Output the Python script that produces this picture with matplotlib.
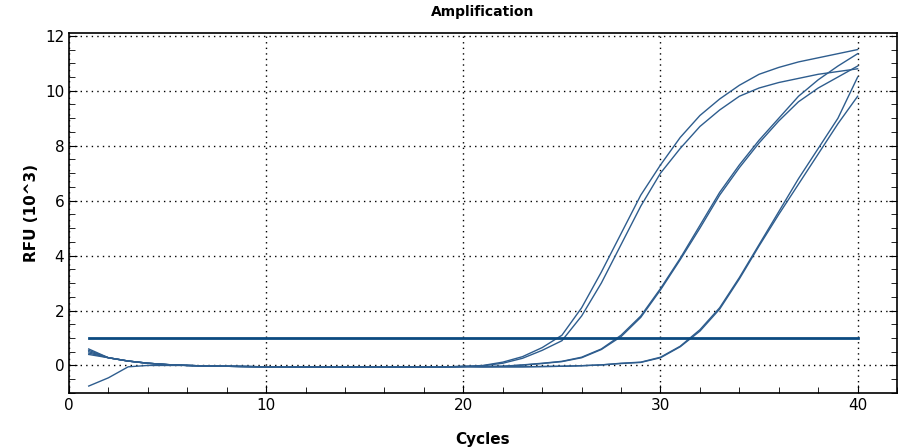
import matplotlib
matplotlib.use("Agg")
import matplotlib.pyplot as plt
from matplotlib.ticker import MultipleLocator

cycles = list(range(1, 41))
base = [0.30, 0.28, 0.16, 0.08, 0.03, 0.0, -0.02, -0.03, -0.04, -0.05,
        -0.05, -0.06, -0.06, -0.06, -0.06, -0.06, -0.06, -0.06, -0.05, -0.04]
a1 = [0.60] + base[1:] + [0.0, 0.12, 0.32, 0.65, 1.1, 2.1, 3.4, 4.8, 6.2, 7.3,
                           8.3, 9.1, 9.7, 10.2, 10.6, 10.85, 11.05, 11.2, 11.35, 11.5]
a2 = [0.55] + base[1:] + [-0.01, 0.08, 0.26, 0.55, 0.9, 1.8, 3.0, 4.4, 5.8, 7.0,
                           7.9, 8.7, 9.3, 9.8, 10.1, 10.3, 10.45, 10.6, 10.7, 10.8]
b1 = [0.45] + base[1:] + [-0.04, -0.03, 0.02, 0.08, 0.15, 0.3, 0.6, 1.1, 1.8, 2.8,
                           3.9, 5.1, 6.3, 7.3, 8.2, 9.0, 9.8, 10.4, 10.9, 11.35]
b2 = [0.50] + base[1:] + [-0.04, -0.03, 0.01, 0.07, 0.14, 0.28, 0.58, 1.05, 1.75, 2.75,
                           3.85, 5.0, 6.2, 7.2, 8.1, 8.9, 9.6, 10.1, 10.5, 10.9]
c1 = [0.40] + base[1:] + [-0.05, -0.05, -0.05, -0.04, -0.03, -0.01, 0.02, 0.08, 0.12, 0.3,
                           0.7, 1.3, 2.1, 3.2, 4.4, 5.6, 6.8, 7.9, 9.0, 10.5]
c2 = [-0.75, -0.45, -0.05, 0.0, 0.0, 0.0, -0.02, -0.03, -0.04, -0.05,
      -0.05, -0.06, -0.06, -0.06, -0.06, -0.06, -0.06, -0.06, -0.05, -0.04,
      -0.05, -0.05, -0.05, -0.04, -0.03, -0.01, 0.02, 0.07, 0.11, 0.28,
      0.68, 1.25, 2.05, 3.15, 4.35, 5.5, 6.6, 7.7, 8.8, 9.8]
series = [a1, a2, b1, b2, c1, c2]
threshold = 1.0

fig = plt.figure(figsize=(9.14, 4.47), dpi=100)
ax = fig.add_axes([0.0755, 0.121, 0.906, 0.805])
for s in series:
    ax.plot(cycles, s, color="#2e5d8e", lw=1.0)
ax.plot([cycles[0], cycles[-1]], [threshold, threshold], color="#0b4a80", lw=2)

ax.set_xlim(0, 42)
ax.set_ylim(-1.0, 12.1)
ax.xaxis.set_major_locator(MultipleLocator(10))
ax.xaxis.set_minor_locator(MultipleLocator(2))
ax.yaxis.set_major_locator(MultipleLocator(2))
ax.yaxis.set_minor_locator(MultipleLocator(0.5))
ax.tick_params(which="both", direction="in", top=False, right=True, labelsize=11)
ax.tick_params(which="major", length=6)
ax.tick_params(which="minor", length=4)
ax.grid(True, which="major", color="black", linestyle=(0, (1, 3)), lw=1)
ax.set_title("Amplification", fontsize=10, fontweight="bold", pad=12)
ax.set_ylabel("RFU (10^3)", fontsize=11, fontweight="bold")
ax.set_xlabel("Cycles", fontsize=11, fontweight="bold", labelpad=14)
for sp in ax.spines.values():
    sp.set_linewidth(1.2)
fig.savefig("out.png", dpi=100)
